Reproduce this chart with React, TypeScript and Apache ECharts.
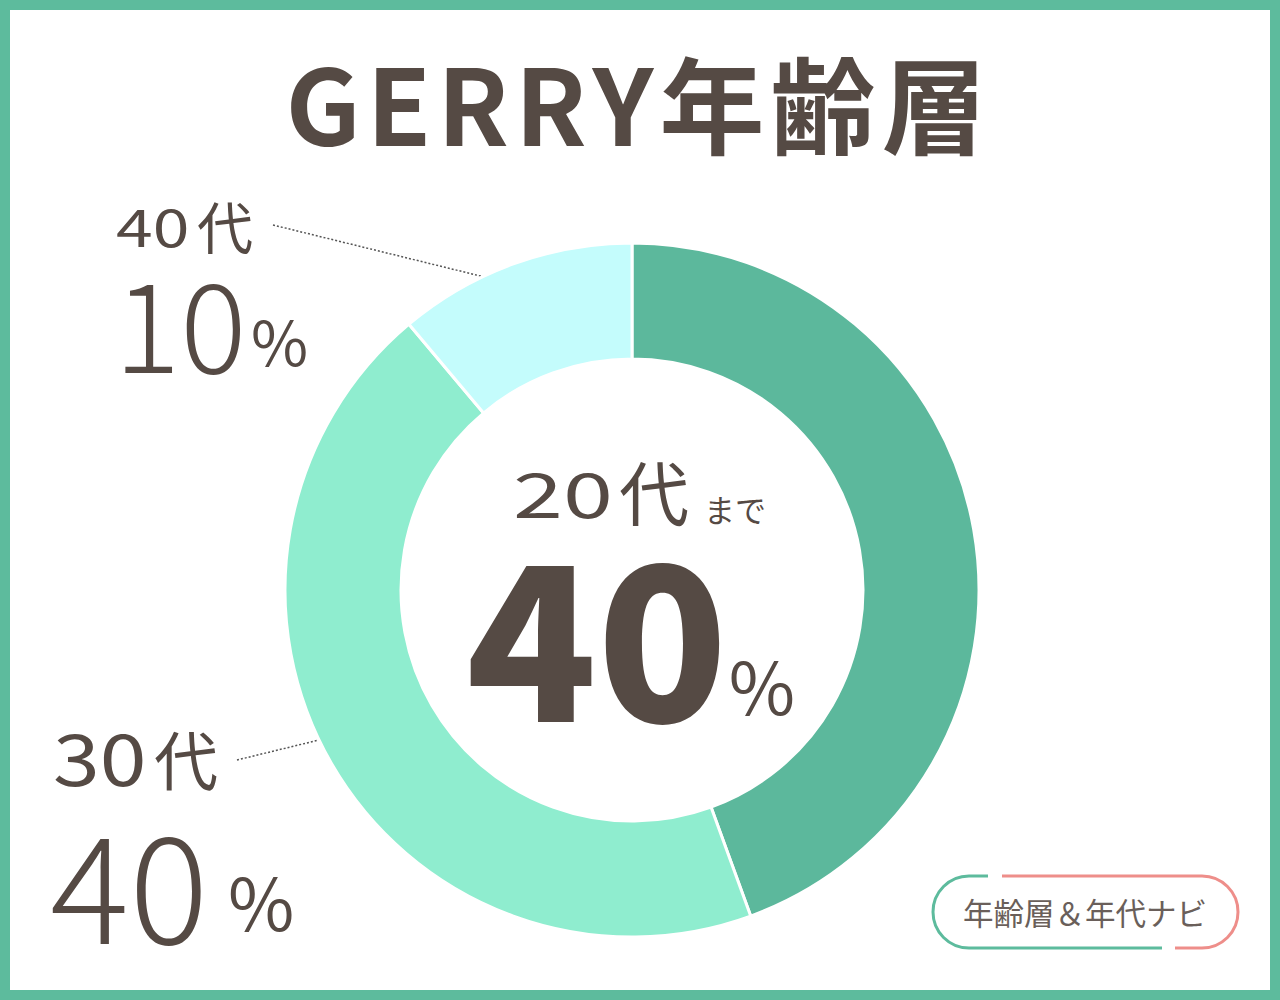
import React, { useEffect, useRef } from "react";
import * as echarts from "echarts";

const titleText = "GERRY年齢層";
const categories = ["20代まで", "30代", "40代"];
const ageDigits = ["20", "30", "40"];
const ageSuffix = "代";
const values = [40, 40, 10];
const sliceColors = ["#5cb89c", "#8fedcf", "#c4fcfc"];
const badgeText = "年齢層＆年代ナビ";

const TEXT = "#554a44";
const FONT = "'Noto Sans CJK JP', 'Noto Sans', sans-serif";

function txt(text: string, x: number, y: number, size: number, weight: string | number, align = "left", scaleX = 1, fill = TEXT) {
  return {
    type: "text",
    x,
    y,
    scaleX,
    style: {
      text,
      fill,
      font: `${weight} ${size}px ${FONT}`,
      lineHeight: Math.round(size * 0.8),
      textAlign: align,
      textVerticalAlign: "middle",
    },
  };
}

function spacedTitle(text: string, cx: number, y: number, size: number, spacing: number) {
  const cv = document.createElement("canvas");
  const ctx = cv.getContext("2d")!;
  ctx.font = `bold ${size}px ${FONT}`;
  const chars = Array.from(text);
  const widths = chars.map((c) => ctx.measureText(c).width);
  const total = widths.reduce((a, b) => a + b, 0) + spacing * (chars.length - 1);
  let x = cx - total / 2;
  return chars.map((c, i) => {
    const el = txt(c, x, y, size, "bold", "left");
    x += widths[i] + spacing;
    return el;
  });
}

export default function App() {
  const ref = useRef<HTMLDivElement>(null);
  useEffect(() => {
    document.body.style.margin = "0";
    const chart = echarts.init(ref.current!, null, { renderer: "svg" });
    const pieData = categories.map((c, i) => ({
      name: c,
      value: values[i],
      itemStyle: { color: sliceColors[i] },
    }));
    const GREEN = "#5dbb9d";
    const PINK = "#ee8e8a";
    chart.setOption({
      animation: false,
      backgroundColor: "#ffffff",
      series: [
        {
          type: "pie",
          center: [632, 590],
          radius: [231, 347],
          startAngle: 90,
          clockwise: true,
          silent: true,
          label: { show: false },
          labelLine: { show: false },
          itemStyle: { borderColor: "#ffffff", borderWidth: 3 },
          data: pieData,
        },
      ],
      graphic: [
        {
          type: "rect",
          shape: { x: 5, y: 5, width: 1270, height: 990 },
          style: { fill: "none", stroke: GREEN, lineWidth: 10 },
          z: 10,
        },
        ...spacedTitle(titleText, 636, 100, 105, 6),
        // center label
        txt(ageDigits[0], 513, 491, 62, 400, "left", 1.45),
        txt(ageSuffix, 619, 490, 70, 400, "left"),
        txt("まで", 735, 508, 31, 400, "center"),
        txt(String(values[0]), 597, 628, 215, 900, "center"),
        txt("%", 762, 683, 72, 400, "center"),
        // 40代 label
        txt(ageDigits[2], 116, 224, 52, 400, "left", 1.27),
        txt(ageSuffix, 197, 224, 56, 400, "left"),
        txt(String(values[2]), 114, 319, 124, 300, "left"),
        txt("%", 251, 339, 62, 400, "left"),
        {
          type: "line",
          shape: { x1: 273, y1: 225, x2: 513, y2: 284 },
          style: { stroke: "#555555", lineWidth: 1.5, lineDash: [2, 2] },
        },
        // 30代 label
        txt(ageDigits[1], 53, 755, 72, 400, "left", 1.17),
        txt(ageSuffix, 154, 757, 64, 400, "left"),
        txt(String(values[1]), 50, 879, 148, 300, "left"),
        txt("%", 228, 899, 72, 400, "left"),
        {
          type: "line",
          shape: { x1: 237, y1: 760, x2: 360, y2: 730 },
          style: { stroke: "#555555", lineWidth: 1.5, lineDash: [2, 2] },
        },
        // badge
        {
          type: "arc",
          shape: { cx: 969, cy: 912, r: 36, startAngle: Math.PI / 2, endAngle: (3 * Math.PI) / 2, clockwise: true },
          style: { stroke: GREEN, lineWidth: 3, fill: "none" },
        },
        {
          type: "line",
          shape: { x1: 969, y1: 876, x2: 988, y2: 876 },
          style: { stroke: GREEN, lineWidth: 3 },
        },
        {
          type: "line",
          shape: { x1: 969, y1: 948, x2: 1162, y2: 948 },
          style: { stroke: GREEN, lineWidth: 3 },
        },
        {
          type: "arc",
          shape: { cx: 1202, cy: 912, r: 36, startAngle: -Math.PI / 2, endAngle: Math.PI / 2, clockwise: true },
          style: { stroke: PINK, lineWidth: 3, fill: "none" },
        },
        {
          type: "line",
          shape: { x1: 1002, y1: 876, x2: 1202, y2: 876 },
          style: { stroke: PINK, lineWidth: 3 },
        },
        {
          type: "line",
          shape: { x1: 1175, y1: 948, x2: 1202, y2: 948 },
          style: { stroke: PINK, lineWidth: 3 },
        },
        txt(badgeText, 1085, 912, 30.5, 400, "center", 1, "#6a5f5a"),
      ],
    });
    return () => chart.dispose();
  }, []);
  return (
    <div
      ref={ref}
      style={{ position: "absolute", left: 0, top: 0, width: 1280, height: 1000 }}
    />
  );
}
